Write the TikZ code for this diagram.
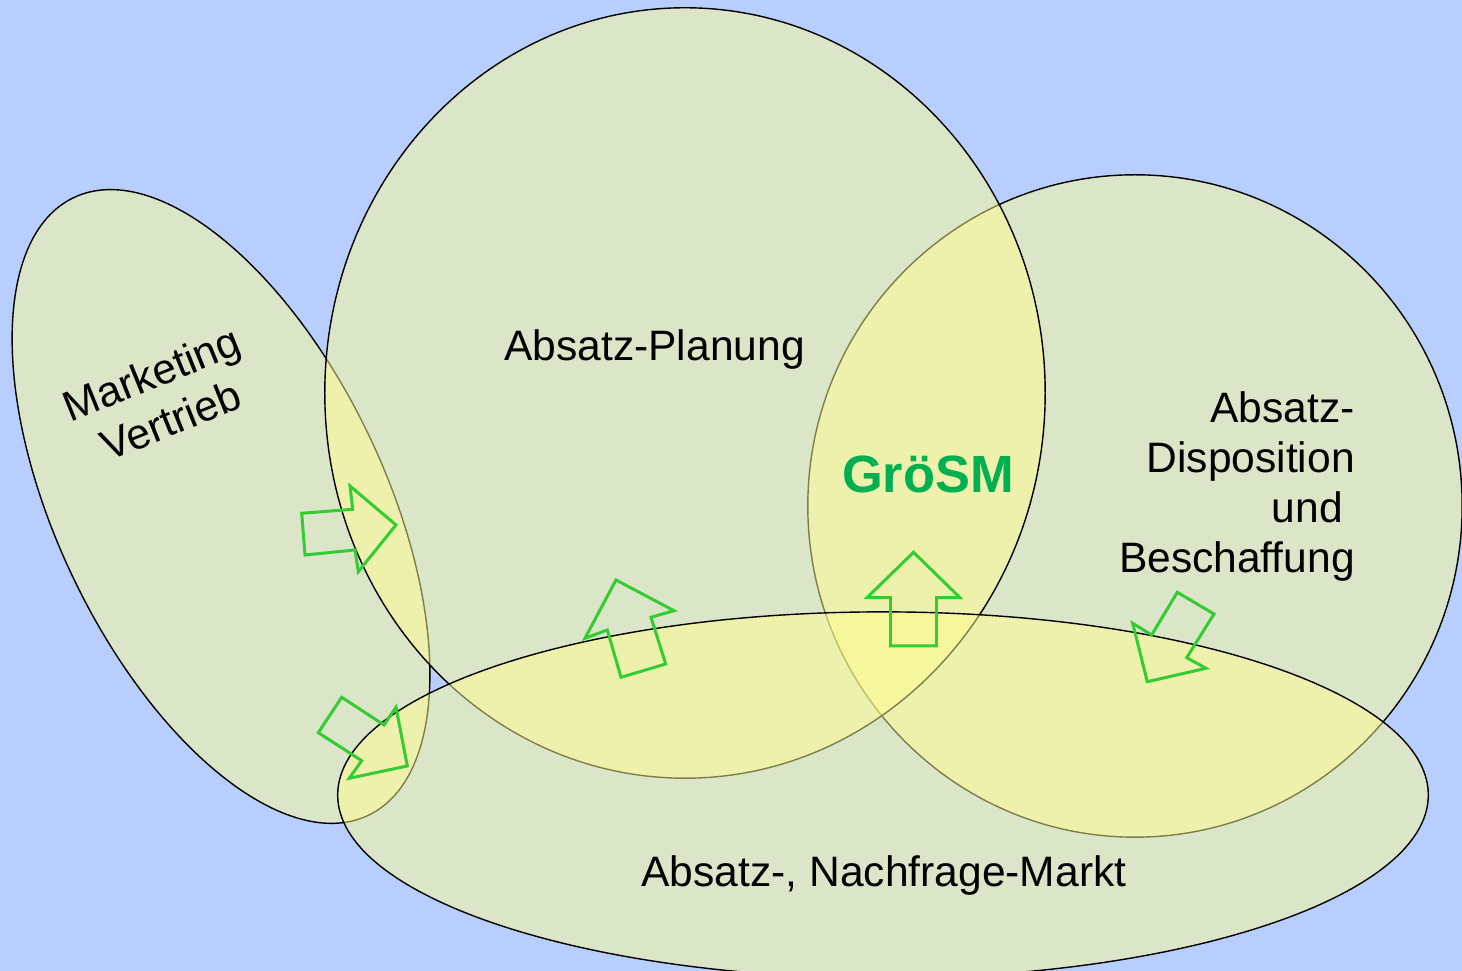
\documentclass[tikz,border=0pt]{standalone}
\usepackage{fontspec}
\setmainfont{Liberation Sans}
\definecolor{bgblue}{RGB}{184,206,255}
\definecolor{setfill}{RGB}{255,253,145}
\definecolor{arrowgreen}{RGB}{51,204,51}
\definecolor{titlegreen}{RGB}{0,176,80}
\tikzset{
  setshape/.style={draw=black, line width=0.4pt, fill=setfill, fill opacity=0.5},
  blockarrow/.style={draw=arrowgreen, line width=0.85pt, line join=miter},
  setlabel/.style={font=\fontsize{12.1}{14.3}\selectfont, inner sep=0pt, text=black},
  titlelabel/.style={font=\bfseries\fontsize{14.9}{17}\selectfont, inner sep=0pt, text=titlegreen},
}
\begin{document}
\begin{tikzpicture}[x=0.01cm,y=-0.01cm]
\fill[bgblue] (0,0) rectangle (1462,971);
\useasboundingbox (0,0) rectangle (1462,971);
\clip (0,0) rectangle (1462,971);

\coordinate (cMk) at (221,506.5);
\coordinate (cDisp) at (1135,506);
\coordinate (cPlan) at (685,393);
\coordinate (cMarkt) at (883,795);

% sets
\path[setshape, rotate around={-64.5:(cMk)}] (cMk) ellipse [x radius=3.42cm, y radius=1.64cm];
\path[setshape] (cDisp) ellipse [x radius=3.27cm, y radius=3.31cm];
\path[setshape] (cPlan) ellipse [x radius=3.60cm, y radius=3.85cm];
\path[setshape] (cMarkt) ellipse [x radius=5.45cm, y radius=1.83cm];

% block arrows
\draw[blockarrow] (301.7,513.3) -- (352.7,509.3) -- (350,486) -- (396,525) -- (358.3,571.7) -- (355,550) -- (305,555) -- cycle;
\draw[blockarrow] (341.7,697.3) -- (384,725) -- (396,707.3) -- (407.3,766) -- (349.3,778.3) -- (361.7,760.7) -- (318.3,732.7) -- cycle;
\draw[blockarrow] (616,580) -- (674,610.7) -- (651,617.3) -- (665.7,664) -- (621,677.3) -- (607.3,630) -- (585,638.3) -- cycle;
\draw[blockarrow] (913.5,552.3) -- (960,597.7) -- (936.5,597.7) -- (936.5,646) -- (890.5,646) -- (890.5,597.7) -- (867,597.7) -- cycle;
\draw[blockarrow] (1177.3,592.3) -- (1214,614) -- (1186.7,657.7) -- (1206,668.3) -- (1147.3,681.7) -- (1132.7,623.3) -- (1151.7,635) -- cycle;

% labels
\node[setlabel, anchor=base] (tPlan) at (654.5,360.5) {Absatz-Planung};
\node[setlabel, anchor=base] (tMarkt) at (884,886.5) {Absatz-, Nachfrage-Markt};
\node[titlelabel, anchor=base] (tGroesm) at (928,492.5) {GröSM};
\node[setlabel, align=right, anchor=east] (tDisp) at (1355.5,486.5) {Absatz-\\Disposition\\und\kern0.278em\\Beschaffung};
\node[setlabel, align=center, rotate=22] (tMk) at (161,397) {Marketing\\Vertrieb};
\end{tikzpicture}
\end{document}
